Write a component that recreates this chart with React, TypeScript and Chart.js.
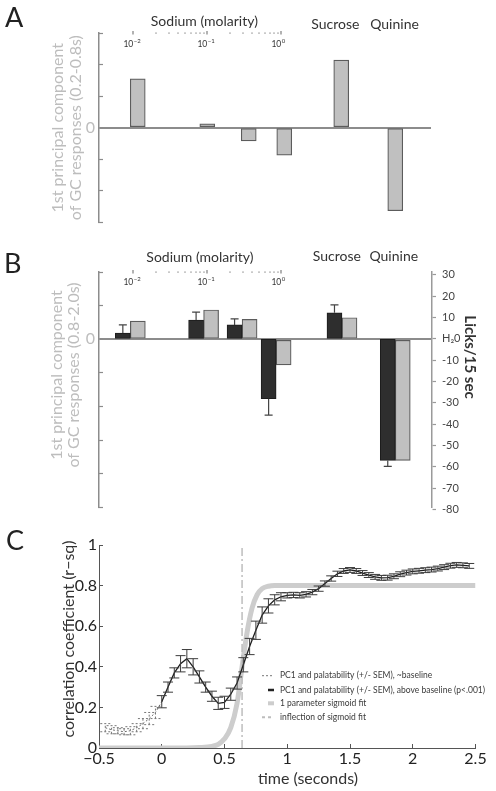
import React, { useEffect, useRef } from 'react';
import { Chart, registerables } from 'chart.js';

Chart.register(...registerables);
Chart.defaults.font.family = 'Lato';

// ---------------- Panel A: PC1 of GC responses (0.2-0.8 s) ----------------
const tastes = ['0.01 M NaCl', '0.1 M NaCl', '0.3 M NaCl', '1 M NaCl', 'Sucrose', 'Quinine'];
const xPosA = [-1.94, -1.0, -0.44, 0.04, 0.81, 1.54]; // position on the log10(molarity) axis
const pc1EarlyA = [1.55, 0.12, -0.42, -0.87, 2.14, -2.63];

// ---------------- Panel B: licks and PC1 (0.8-2.0 s) ----------------
const xPosB = [-2.04, -1.05, -0.53, -0.07, 0.82, 1.54];
const licksB = [2.7, 8.8, 6.5, -28.1, 12.2, -57.0];
const licksSemB = [3.8, 3.7, 2.8, 7.7, 3.7, 2.8];
const pc1LateB = [0.54, 0.87, 0.59, -0.76, 0.64, -3.6];
const lickTicks = [30, 20, 10, 0, -10, -20, -30, -40, -50, -60, -70, -80];

// ---------------- Sodium molarity (log) axis ----------------
const sodiumDecades = [-2, -1, 0];
const sodiumMultipliers = [1, 2, 3, 4, 5, 6, 7, 8, 9];
const sodiumExponents = ['\u22122', '\u22121', '0'];

// ---------------- Panel C: correlation over time ----------------
const tBase = [-0.45, -0.4, -0.35, -0.3, -0.25, -0.2, -0.15, -0.1, -0.05, 0];
const rBase = [0.1, 0.09, 0.085, 0.08, 0.085, 0.1, 0.12, 0.145, 0.175, 0.228];
const semBase = [0.02, 0.02, 0.015, 0.015, 0.02, 0.02, 0.025, 0.03, 0.03, null];

const tAbove = [0, 0.05, 0.1, 0.15, 0.2, 0.25, 0.3, 0.35, 0.4, 0.45, 0.5, 0.55, 0.6, 0.65, 0.7, 0.75, 0.8, 0.85, 0.9, 0.95,
  1, 1.05, 1.1, 1.15, 1.2, 1.25, 1.3, 1.35, 1.4, 1.45, 1.5, 1.55, 1.6, 1.65, 1.7, 1.75, 1.8, 1.85, 1.9, 1.95,
  2, 2.05, 2.1, 2.15, 2.2, 2.25, 2.3, 2.35, 2.4, 2.45];
const rAbove = [0.228, 0.3, 0.37, 0.415, 0.44, 0.4, 0.35, 0.3, 0.255, 0.22, 0.225, 0.265, 0.32, 0.41, 0.5, 0.58, 0.655, 0.7, 0.73, 0.745,
  0.752, 0.754, 0.752, 0.757, 0.768, 0.785, 0.81, 0.835, 0.858, 0.872, 0.877, 0.872, 0.862, 0.852, 0.843, 0.838, 0.839, 0.846, 0.856, 0.864,
  0.87, 0.873, 0.876, 0.879, 0.884, 0.891, 0.898, 0.902, 0.9, 0.897];
const semAbove = [0.03, 0.025, 0.025, 0.04, 0.045, 0.04, 0.03, 0.025, 0.025, 0.03, 0.03, 0.03, 0.03, 0.035, 0.04, 0.045, 0.04, 0.035, 0.025, 0.02,
  0.013, 0.013, 0.013, 0.013, 0.013, 0.013, 0.013, 0.013, 0.013, 0.012, 0.012, 0.012, 0.012, 0.012, 0.012, 0.012, 0.012, 0.012, 0.012, 0.012,
  0.012, 0.012, 0.012, 0.012, 0.012, 0.012, 0.012, 0.012, 0.012, 0.012];

const tSigmoid = [-0.5, 0.2, 0.3, 0.4, 0.45, 0.5, 0.55, 0.6, 0.64, 0.68, 0.72, 0.76, 0.8, 0.85, 0.9, 1.0, 2.5];
const rSigmoid = [0, 0, 0.002, 0.008, 0.018, 0.045, 0.1, 0.22, 0.4, 0.57, 0.69, 0.755, 0.785, 0.797, 0.8, 0.8, 0.8];
const inflectionT = 0.64;

const legendC = [
  'PC1 and palatability (+/- SEM), ~baseline',
  'PC1 and palatability (+/- SEM), above baseline (p<.001)',
  '1 parameter sigmoid fit',
  'inflection of sigmoid fit',
];

// ---------------- helpers ----------------
type TextItem = {
  text: string; x?: number; xv?: number; y: number; size: number; color: string;
  weight?: string; rot?: number; align?: CanvasTextAlign; baseline?: CanvasTextBaseline;
};

const textPlugin = (items: TextItem[]) => ({
  id: 'texts',
  afterDraw(chart: any) {
    const ctx = chart.ctx;
    items.forEach((it) => {
      const x = it.xv !== undefined ? chart.scales.x.getPixelForValue(it.xv) : it.x;
      ctx.save();
      ctx.translate(x, it.y);
      if (it.rot) ctx.rotate(it.rot);
      ctx.font = `${it.weight || 'normal'} ${it.size}px Lato`;
      ctx.fillStyle = it.color;
      ctx.textAlign = it.align || 'center';
      ctx.textBaseline = it.baseline || 'middle';
      ctx.fillText(it.text, 0, 0);
      ctx.restore();
    });
  },
});

const sodiumAxisPlugin = (labelDy: number) => ({
  id: 'sodiumAxis',
  afterDraw(chart: any) {
    const { ctx, chartArea } = chart;
    const xs = chart.scales.x;
    const y = chartArea.top;
    ctx.save();
    sodiumDecades.forEach((d, di) => {
      const mults = di === sodiumDecades.length - 1 ? [1] : sodiumMultipliers;
      mults.forEach((m) => {
        const px = Math.round(xs.getPixelForValue(d + Math.log10(m)));
        ctx.fillStyle = '#666';
        if (m === 1) ctx.fillRect(px - 0.5, y - 2, 1, 3.5);
        else ctx.fillRect(px - 0.5, y - 0.5, 1, 1.2);
      });
      const px = xs.getPixelForValue(d);
      ctx.fillStyle = '#333';
      ctx.textBaseline = 'middle';
      ctx.font = '8.5px Lato';
      ctx.textAlign = 'right';
      ctx.fillText('10', px, y + labelDy);
      ctx.font = '6px Lato';
      ctx.textAlign = 'left';
      ctx.fillText(sodiumExponents[di], px + 0.5, y + labelDy - 3);
    });
    ctx.restore();
  },
});

const leftPcAxis = (min: number, max: number, title?: string[]) => ({
  min, max,
  afterFit: (s: any) => { s.width = 99; },
  ticks: {
    stepSize: 1,
    callback: (v: any) => (v === 0 ? '0' : ''),
    color: '#bdbdbd',
    font: { size: 16 },
    padding: 8,
  },
  grid: {
    drawOnChartArea: true,
    color: (c: any) => (c.tick && c.tick.value === 0 ? '#8c8c8c' : 'rgba(0,0,0,0)'),
    lineWidth: (c: any) => (c.tick && c.tick.value === 0 ? 2 : 1),
    tickColor: '#8c8c8c',
    tickWidth: 1.2,
    tickLength: -4,
  },
  border: { color: '#8c8c8c', width: 1.5 },
  title: title
    ? { display: true, text: title, color: '#bdbdbd', font: { size: 16, lineHeight: 1.1 }, padding: { top: 49, bottom: 0 } }
    : { display: false },
});

function makeA(canvas: HTMLCanvasElement) {
  return new Chart(canvas, {
    type: 'bar',
    data: {
      labels: tastes,
      datasets: [{
        label: 'PC1 (0.2-0.8s)',
        data: xPosA.map((x, i) => ({ x, y: pc1EarlyA[i] })),
        backgroundColor: '#c0c0c0',
        borderColor: '#5c5c5c',
        borderWidth: 1.2,
        borderSkipped: false,
        barThickness: 15,
      }],
    },
    options: {
      responsive: false,
      animation: false,
      layout: { padding: { top: 33, bottom: 9, left: 0, right: 65 } },
      plugins: { legend: { display: false }, tooltip: { enabled: false } },
      scales: {
        x: { type: 'linear', min: -2.4635, max: 2.023, display: false, offset: false },
        y: leftPcAxis(-3, 3, ['1st principal component', 'of GC responses (0.2-0.8s)']) as any,
      },
    } as any,
    plugins: [
      sodiumAxisPlugin(11),
      textPlugin([
        { text: 'A', x: 5, y: 27, size: 27, color: '#222', align: 'left', baseline: 'alphabetic' },
        { text: 'Sodium (molarity)', xv: -1.04, y: 21, size: 14, color: '#333' },
        { text: 'Sucrose', xv: 0.73, y: 24, size: 14, color: '#333' },
        { text: 'Quinine', xv: 1.53, y: 24, size: 14, color: '#333' },
      ]),
    ],
  } as any);
}

function makeB(canvas: HTMLCanvasElement) {
  const errPlugin = {
    id: 'lickErr',
    afterDatasetsDraw(chart: any) {
      const { ctx } = chart;
      const meta = chart.getDatasetMeta(0);
      const ys = chart.scales.yR;
      ctx.save();
      ctx.strokeStyle = '#444';
      ctx.lineWidth = 1.2;
      licksB.forEach((v, i) => {
        const bar = meta.data[i];
        const x = bar.x;
        const y1 = ys.getPixelForValue(v);
        const y2 = ys.getPixelForValue(v + Math.sign(v) * licksSemB[i]);
        ctx.beginPath();
        ctx.moveTo(x, y1);
        ctx.lineTo(x, y2);
        ctx.moveTo(x - 4, y2);
        ctx.lineTo(x + 4, y2);
        ctx.stroke();
      });
      ctx.restore();
    },
  };
  return new Chart(canvas, {
    type: 'bar',
    data: {
      labels: tastes,
      datasets: [
        {
          label: 'Licks/15 sec',
          data: xPosB.map((x, i) => ({ x, y: licksB[i] })),
          yAxisID: 'yR',
          stack: 'licks',
          backgroundColor: '#2e2e2e',
          borderColor: '#1c1c1c',
          borderWidth: 1,
          borderSkipped: false,
          barThickness: 15,
        },
        {
          label: 'PC1 (0.8-2.0s)',
          data: xPosB.map((x, i) => ({ x, y: pc1LateB[i] })),
          yAxisID: 'y',
          stack: 'pc1',
          backgroundColor: '#c0c0c0',
          borderColor: '#5c5c5c',
          borderWidth: 1.2,
          borderSkipped: false,
          barThickness: 15,
        },
      ],
    },
    options: {
      responsive: false,
      animation: false,
      layout: { padding: { top: 32, bottom: 14, left: 0, right: 0 } },
      plugins: { legend: { display: false }, tooltip: { enabled: false } },
      scales: {
        x: { type: 'linear', min: -2.4635, max: 2.0365, display: false, offset: false },
        y: leftPcAxis(-5, 2) as any,
        yR: {
          position: 'right',
          min: -79,
          max: 31.3,
          afterFit: (s: any) => { s.width = 64; },
          afterBuildTicks: (s: any) => { s.ticks = lickTicks.map((v) => ({ value: v })); },
          ticks: {
            callback: (v: any) => (v === 0 ? 'H\u20820' : String(v)),
            color: '#444',
            font: { size: 11 },
            padding: 6,
          },
          grid: { drawOnChartArea: false, tickLength: 4, color: '#9a9a9a', tickWidth: 1.2 },
          border: { color: '#9a9a9a', width: 1.5 },
        },
      },
    } as any,
    plugins: [
      errPlugin,
      sodiumAxisPlugin(10),
      textPlugin([
        { text: 'B', x: 4, y: 33, size: 27, color: '#222', align: 'left', baseline: 'alphabetic' },
        { text: 'Sodium (molarity)', xv: -1.1, y: 17, size: 14, color: '#333' },
        { text: 'Sucrose', xv: 0.75, y: 16, size: 14, color: '#333' },
        { text: 'Quinine', xv: 1.52, y: 16, size: 14, color: '#333' },
        { text: '1st principal component', x: 57, y: 135, size: 16, color: '#bdbdbd', rot: -Math.PI / 2 },
        { text: 'of GC responses (0.8-2.0s)', x: 74, y: 135, size: 16, color: '#bdbdbd', rot: -Math.PI / 2 },
        { text: 'Licks/15 sec', x: 470, y: 117, size: 15, color: '#333', weight: 'bold', rot: Math.PI / 2 },
      ]),
    ],
  } as any);
}

function makeC(canvas: HTMLCanvasElement) {
  const errPlugin = {
    id: 'semBars',
    afterDatasetsDraw(chart: any) {
      const { ctx } = chart;
      const xs = chart.scales.x;
      const ys = chart.scales.y;
      const draw = (ts: number[], rs: number[], es: (number | null)[], color: string, dash: number[]) => {
        ctx.save();
        ctx.strokeStyle = color;
        ctx.lineWidth = 1;
        ctx.setLineDash(dash);
        ts.forEach((t, i) => {
          const e = es[i];
          if (e == null) return;
          const px = xs.getPixelForValue(t);
          const y1 = ys.getPixelForValue(rs[i] - e);
          const y2 = ys.getPixelForValue(rs[i] + e);
          ctx.beginPath();
          ctx.moveTo(px, y1); ctx.lineTo(px, y2);
          ctx.moveTo(px - 5, y1); ctx.lineTo(px + 5, y1);
          ctx.moveTo(px - 5, y2); ctx.lineTo(px + 5, y2);
          ctx.stroke();
        });
        ctx.restore();
      };
      draw(tBase, rBase, semBase, '#777', [2, 2]);
      draw(tAbove, rAbove, semAbove, '#3c3c3c', []);
    },
  };
  const legendPlugin = {
    id: 'legendC',
    afterDraw(chart: any) {
      const { ctx } = chart;
      const rows = [150.7, 165, 178.3, 192.3];
      const sym = [
        { x0: 262, x1: 274, color: '#777', w: 1, dash: [2, 2] },
        { x0: 268, x1: 274, color: '#222', w: 2.5, dash: [] },
        { x0: 268, x1: 274, color: '#cdcdcd', w: 4, dash: [] },
        { x0: 262, x1: 274, color: '#bdbdbd', w: 2, dash: [3, 3] },
      ];
      ctx.save();
      rows.forEach((y, i) => {
        const s = sym[i];
        ctx.strokeStyle = s.color;
        ctx.lineWidth = s.w;
        ctx.setLineDash(s.dash);
        ctx.beginPath();
        ctx.moveTo(s.x0, y);
        ctx.lineTo(s.x1, y);
        ctx.stroke();
        ctx.setLineDash([]);
        ctx.fillStyle = '#3a3a3a';
        ctx.font = '8.5px Lato';
        ctx.textAlign = 'left';
        ctx.textBaseline = 'middle';
        ctx.fillText(legendC[i], 280, y);
      });
      ctx.restore();
    },
  };
  return new Chart(canvas, {
    type: 'line',
    data: {
      datasets: [
        {
          label: legendC[1],
          data: tAbove.map((x, i) => ({ x, y: rAbove[i] })),
          borderColor: '#1e1e1e',
          borderWidth: 1.3,
          pointRadius: 0,
          order: 1,
        },
        {
          label: legendC[0],
          data: tBase.map((x, i) => ({ x, y: rBase[i] })),
          borderColor: '#6a6a6a',
          borderWidth: 1,
          borderDash: [2, 2],
          pointRadius: 0,
          order: 2,
        },
        {
          label: legendC[3],
          data: [{ x: inflectionT, y: 0 }, { x: inflectionT, y: 1 }],
          borderColor: '#bdbdbd',
          borderWidth: 1.5,
          borderDash: [8, 3, 2, 3],
          pointRadius: 0,
          order: 3,
        },
        {
          label: legendC[2],
          data: tSigmoid.map((x, i) => ({ x, y: rSigmoid[i] })),
          borderColor: '#cdcdcd',
          borderWidth: 5,
          cubicInterpolationMode: 'monotone',
          pointRadius: 0,
          order: 4,
        },
      ],
    },
    options: {
      responsive: false,
      animation: false,
      layout: { padding: { top: 20, bottom: 0, left: 0, right: 20.5 } },
      plugins: { legend: { display: false }, tooltip: { enabled: false } },
      scales: {
        x: {
          type: 'linear',
          min: -0.5,
          max: 2.5,
          afterFit: (s: any) => { s.height = 43; },
          ticks: {
            stepSize: 0.5,
            callback: (v: any) => (v < 0 ? '\u2212' + Math.abs(v) : String(v)),
            color: '#222',
            font: { size: 16 },
            padding: 5,
            maxRotation: 0,
          },
          grid: { drawOnChartArea: false, tickLength: -4, tickColor: '#555', color: '#555' },
          border: { color: '#555', width: 1 },
        },
        y: {
          min: 0,
          max: 1,
          afterFit: (s: any) => { s.width = 99; },
          ticks: {
            stepSize: 0.1,
            callback: (v: any) => {
              const k = Math.round(v * 10);
              if (k % 2 !== 0) return '';
              if (k === 0) return '0';
              if (k === 10) return '1';
              return (k / 10).toFixed(1);
            },
            color: '#222',
            font: { size: 16 },
            padding: 6,
          },
          grid: { drawOnChartArea: false, tickLength: -4, tickColor: '#555', color: '#555' },
          border: { color: '#555', width: 1 },
        },
      },
    } as any,
    plugins: [
      errPlugin,
      legendPlugin,
      textPlugin([
        { text: 'C', x: 6, y: 25, size: 27, color: '#222', align: 'left', baseline: 'alphabetic' },
        { text: 'correlation coefficient (r\u2212sq)', x: 69, y: 114, size: 16, color: '#333', rot: -Math.PI / 2 },
        { text: 'time (seconds)', x: 308, y: 254, size: 16, color: '#333' },
      ]),
    ],
  } as any);
}

export default function App() {
  const aRef = useRef<HTMLCanvasElement>(null);
  const bRef = useRef<HTMLCanvasElement>(null);
  const cRef = useRef<HTMLCanvasElement>(null);
  useEffect(() => {
    const charts = [makeA(aRef.current!), makeB(bRef.current!), makeC(cRef.current!)];
    return () => charts.forEach((c) => c.destroy());
  }, []);
  return (
    <div style={{ position: 'absolute', left: 0, top: 0, width: 496, height: 791, background: '#fff', overflow: 'hidden' }}>
      <canvas ref={aRef} width={496} height={240} style={{ position: 'absolute', left: 0, top: 0 }} />
      <canvas ref={bRef} width={496} height={285} style={{ position: 'absolute', left: 0, top: 240 }} />
      <canvas ref={cRef} width={496} height={266} style={{ position: 'absolute', left: 0, top: 525 }} />
    </div>
  );
}
